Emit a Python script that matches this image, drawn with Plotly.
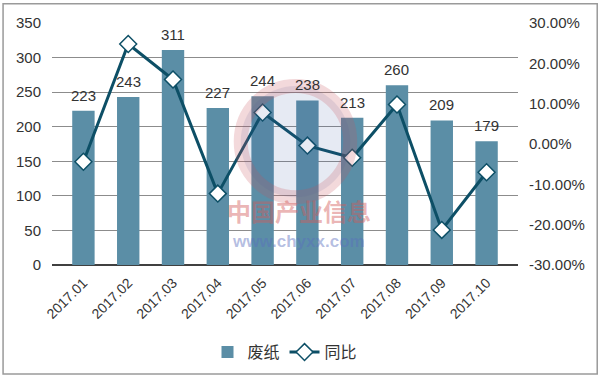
import plotly.graph_objects as go

categories = ["2017.01", "2017.02", "2017.03", "2017.04", "2017.05",
              "2017.06", "2017.07", "2017.08", "2017.09", "2017.10"]
waste_paper = [223, 243, 311, 227, 244, 238, 213, 260, 209, 179]
yoy = [-4.4, 24.8, 16.0, -12.3, 7.8, -0.4, -3.4, 9.8, -21.3, -7.0]
left_ticks = [0, 50, 100, 150, 200, 250, 300, 350]
right_ticks = [-30, -20, -10, 0, 10, 20, 30]
right_tick_text = [f"{v:.2f}%" for v in right_ticks]

FONT = "Liberation Sans, Arial, sans-serif"
BAR = "#5B8EA6"
LINE = "#0D4F66"

fig = go.Figure()
fig.add_trace(go.Bar(
    x=categories, y=waste_paper, name="废纸",
    marker=dict(color=BAR, line=dict(width=0)),
    width=0.5,
))
fig.add_trace(go.Scatter(
    x=categories, y=yoy, name="同比", yaxis="y2", mode="lines+markers",
    line=dict(color=LINE, width=3),
    marker=dict(symbol="diamond", size=13, color="white",
                line=dict(color=LINE, width=1.5)),
))

# data labels above bars (category index positions)
for i, v in enumerate(waste_paper):
    fig.add_annotation(x=i, y=v, xref="x", yref="y", text=str(v),
                       showarrow=False, yanchor="bottom", yshift=5,
                       font=dict(size=15, color="#333333", family=FONT))

# faint watermark
fig.add_shape(type="circle", xref="paper", yref="paper",
              x0=0.405, x1=0.64, y0=0.28, y1=0.74,
              line=dict(color="rgba(200,80,90,0.22)", width=14),
              fillcolor="rgba(60,90,160,0.13)", layer="above")
fig.add_annotation(text="<b>中国产业信息</b>", xref="paper", yref="paper",
                   x=0.53, y=0.145, showarrow=False,
                   font=dict(size=24, color="rgba(210,90,90,0.45)",
                             family="Noto Sans CJK SC"))
fig.add_annotation(text="<b>www.chyxx.com</b>", xref="paper", yref="paper",
                   x=0.53, y=0.05, showarrow=False,
                   font=dict(size=17, color="rgba(90,110,190,0.45)", family=FONT))

fig.update_layout(
    width=600, height=380,
    margin=dict(l=52, r=82, t=23, b=115, autoexpand=False),
    paper_bgcolor="white", plot_bgcolor="white",
    font=dict(family=FONT, size=14, color="#333333"),
    showlegend=True,
    legend=dict(orientation="h", x=0.5, xanchor="center", y=-0.29,
                yanchor="top", font=dict(size=16, family="Noto Sans CJK SC"),
                traceorder="normal"),
    xaxis=dict(type="category", categoryorder="array", categoryarray=categories,
               tickangle=-45, showgrid=False,
               showline=False, ticks="", tickfont=dict(size=14),
               automargin=False, ticklabelstandoff=6),
    yaxis=dict(range=[0, 350], tickvals=left_ticks, showgrid=True,
               gridcolor="#8c8c8c", gridwidth=1, zeroline=True,
               zerolinecolor="#404040", zerolinewidth=1.5,
               ticks="", tickfont=dict(size=15), automargin=False,
               ticklabelstandoff=10),
    yaxis2=dict(range=[-30, 30], tickvals=right_ticks, ticktext=right_tick_text,
                overlaying="y", side="right", showgrid=False, zeroline=False,
                ticks="", tickfont=dict(size=15), automargin=False,
                ticklabelstandoff=10),
)
fig.add_shape(type="rect", xref="paper", yref="paper",
              x0=-0.105, x1=1.17, y0=-0.45, y1=1.08,
              line=dict(color="#9a9a9a", width=1.5), layer="below")

fig.write_html("out.html")
